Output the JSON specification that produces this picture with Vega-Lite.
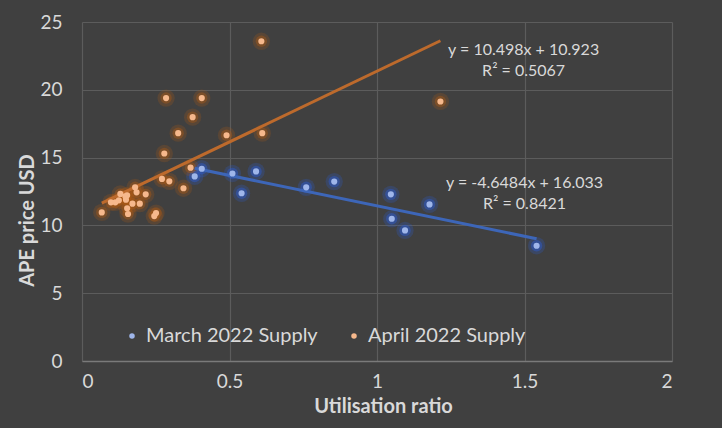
{
  "$schema": "https://vega.github.io/schema/vega-lite/v6.json",
  "description": "APE price vs utilisation ratio, March and April 2022 supply, with linear trendlines.",
  "autosize": {"type": "fit", "contains": "padding"},
  "padding": {"left": 17, "top": 13, "right": 50, "bottom": 12},
  "width": 722,
  "height": 428,
  "background": "#404040",
  "config": {
    "font": "Lato",
    "view": {"stroke": null},
    "axis": {
      "labelColor": "#d9d9d9",
      "labelFontSize": 19,
      "titleColor": "#d9d9d9",
      "titleFontSize": 20,
      "titleFontWeight": "bold",
      "gridColor": "#5c5c5c",
      "gridWidth": 1.2,
      "ticks": false
    },
    "legend": {
      "labelColor": "#d9d9d9",
      "labelFontSize": 20,
      "labelLimit": 400
    }
  },
  "data": {
    "values": [
      {"series": "March 2022 Supply", "ratio": 0.406, "price": 14.18},
      {"series": "March 2022 Supply", "ratio": 0.382, "price": 13.61},
      {"series": "March 2022 Supply", "ratio": 0.510, "price": 13.83},
      {"series": "March 2022 Supply", "ratio": 0.541, "price": 12.37},
      {"series": "March 2022 Supply", "ratio": 0.590, "price": 13.98},
      {"series": "March 2022 Supply", "ratio": 0.760, "price": 12.81},
      {"series": "March 2022 Supply", "ratio": 0.855, "price": 13.23},
      {"series": "March 2022 Supply", "ratio": 1.047, "price": 12.29},
      {"series": "March 2022 Supply", "ratio": 1.178, "price": 11.55},
      {"series": "March 2022 Supply", "ratio": 1.050, "price": 10.49},
      {"series": "March 2022 Supply", "ratio": 1.095, "price": 9.63},
      {"series": "March 2022 Supply", "ratio": 1.541, "price": 8.50},
      {"series": "April 2022 Supply", "ratio": 0.067, "price": 10.96},
      {"series": "April 2022 Supply", "ratio": 0.098, "price": 11.70},
      {"series": "April 2022 Supply", "ratio": 0.113, "price": 11.70},
      {"series": "April 2022 Supply", "ratio": 0.125, "price": 11.85},
      {"series": "April 2022 Supply", "ratio": 0.130, "price": 12.32},
      {"series": "April 2022 Supply", "ratio": 0.147, "price": 12.14},
      {"series": "April 2022 Supply", "ratio": 0.153, "price": 12.22},
      {"series": "April 2022 Supply", "ratio": 0.149, "price": 11.90},
      {"series": "April 2022 Supply", "ratio": 0.180, "price": 12.81},
      {"series": "April 2022 Supply", "ratio": 0.185, "price": 12.44},
      {"series": "April 2022 Supply", "ratio": 0.216, "price": 12.29},
      {"series": "April 2022 Supply", "ratio": 0.171, "price": 11.60},
      {"series": "April 2022 Supply", "ratio": 0.196, "price": 11.60},
      {"series": "April 2022 Supply", "ratio": 0.153, "price": 11.26},
      {"series": "April 2022 Supply", "ratio": 0.156, "price": 10.84},
      {"series": "April 2022 Supply", "ratio": 0.245, "price": 10.69},
      {"series": "April 2022 Supply", "ratio": 0.251, "price": 10.91},
      {"series": "April 2022 Supply", "ratio": 0.271, "price": 13.43},
      {"series": "April 2022 Supply", "ratio": 0.296, "price": 13.25},
      {"series": "April 2022 Supply", "ratio": 0.279, "price": 15.30},
      {"series": "April 2022 Supply", "ratio": 0.344, "price": 12.74},
      {"series": "April 2022 Supply", "ratio": 0.368, "price": 14.26},
      {"series": "April 2022 Supply", "ratio": 0.326, "price": 16.80},
      {"series": "April 2022 Supply", "ratio": 0.375, "price": 17.98},
      {"series": "April 2022 Supply", "ratio": 0.285, "price": 19.39},
      {"series": "April 2022 Supply", "ratio": 0.406, "price": 19.39},
      {"series": "April 2022 Supply", "ratio": 0.490, "price": 16.65},
      {"series": "April 2022 Supply", "ratio": 0.608, "price": 23.58},
      {"series": "April 2022 Supply", "ratio": 0.611, "price": 16.80},
      {"series": "April 2022 Supply", "ratio": 1.215, "price": 19.14}
    ]
  },
  "layer": [
    {
      "mark": {"type": "circle", "opacity": 0.22},
      "encoding": {
        "x": {
          "field": "ratio",
          "type": "quantitative",
          "scale": {"domain": [0, 2], "nice": false},
          "axis": {
            "values": [0, 0.5, 1, 1.5, 2],
            "labelExpr": "'' + datum.value",
            "labelPadding": 11,
            "domain": true,
            "domainColor": "#7a7a7a",
            "domainWidth": 1.5,
            "titleX": 301,
            "titlePadding": 5
          },
          "title": "Utilisation ratio"
        },
        "y": {
          "field": "price",
          "type": "quantitative",
          "scale": {"domain": [0, 25], "nice": false},
          "axis": {
            "values": [0, 5, 10, 15, 20, 25],
            "labelPadding": 20,
            "domain": false,
            "titleX": -45,
            "titleY": 198
          },
          "title": "APE price USD"
        },
        "color": {
          "field": "series",
          "type": "nominal",
          "scale": {"domain": ["March 2022 Supply", "April 2022 Supply"], "range": ["#2a5fe0", "#b05a14"]},
          "legend": null
        },
        "size": {"value": 300}
      }
    },
    {
      "mark": {"type": "circle", "opacity": 0.4},
      "encoding": {
        "x": {"field": "ratio", "type": "quantitative"},
        "y": {"field": "price", "type": "quantitative"},
        "color": {
          "field": "series",
          "type": "nominal",
          "scale": {"domain": ["March 2022 Supply", "April 2022 Supply"], "range": ["#2a5fe0", "#b05a14"]},
          "legend": null
        },
        "size": {"value": 130}
      }
    },
    {
      "transform": [
        {"regression": "price", "on": "ratio", "groupby": ["series"]}
      ],
      "mark": {"type": "line", "strokeWidth": 3},
      "encoding": {
        "x": {"field": "ratio", "type": "quantitative"},
        "y": {"field": "price", "type": "quantitative"},
        "color": {
          "field": "series",
          "type": "nominal",
          "scale": {"domain": ["March 2022 Supply", "April 2022 Supply"], "range": ["#3d66b8", "#bd6a2c"]},
          "legend": null
        }
      }
    },
    {
      "mark": {"type": "circle", "opacity": 1},
      "encoding": {
        "x": {"field": "ratio", "type": "quantitative"},
        "y": {"field": "price", "type": "quantitative"},
        "color": {
          "field": "series",
          "type": "nominal",
          "scale": {"domain": ["March 2022 Supply", "April 2022 Supply"], "range": ["#9fb6ea", "#f6b88c"]},
          "legend": {
            "title": null,
            "orient": "none",
            "direction": "horizontal",
            "legendX": 40,
            "legendY": 304,
            "symbolType": "circle",
            "symbolSize": 30,
            "symbolStrokeWidth": 0,
            "columnPadding": 26,
            "labelOffset": 4
          }
        },
        "size": {"value": 38}
      }
    },
    {
      "data": {"values": [{"series": "April 2022 Supply"}]},
      "mark": {"type": "text", "fontSize": 16, "fontWeight": "normal", "fill": "#d9d9d9", "align": "center", "lineHeight": 21},
      "encoding": {
        "x": {"datum": 1.497},
        "y": {"datum": 22.95},
        "text": {"value": ["y = 10.498x + 10.923", "R² = 0.5067"]}
      }
    },
    {
      "data": {"values": [{"series": "March 2022 Supply"}]},
      "mark": {"type": "text", "fontSize": 16, "fontWeight": "normal", "fill": "#d9d9d9", "align": "center", "lineHeight": 21},
      "encoding": {
        "x": {"datum": 1.5},
        "y": {"datum": 13.13},
        "text": {"value": ["y = -4.6484x + 16.033", "R² = 0.8421"]}
      }
    }
  ],
  "resolve": {"scale": {"color": "independent"}}
}
